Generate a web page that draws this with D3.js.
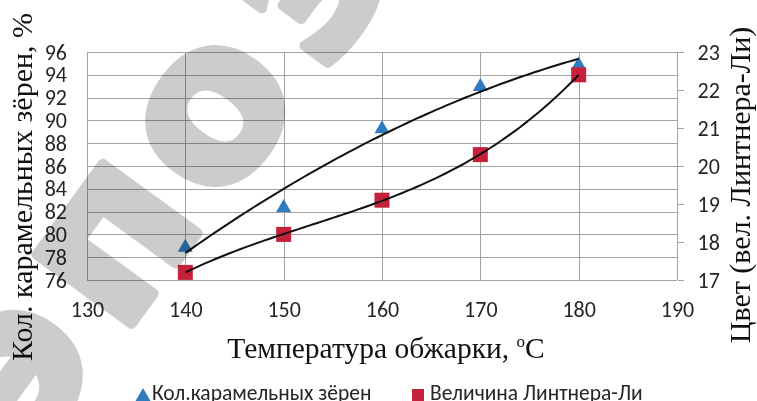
<!DOCTYPE html>
<html>
<head>
<meta charset="utf-8">
<script src="https://cdn.jsdelivr.net/npm/d3@7"></script>
<style>
  html, body { margin: 0; padding: 0; background: #fff; }
  svg { display: block; }
</style>
</head>
<body>
<svg id="chart" width="757" height="401"></svg>
<script>
// Roasting temperature, °C
const temperatures = [140, 150, 160, 170, 180];
// Share of caramelised beans, % (left axis)
const caramelBeans = [79, 82.5, 89.4, 93.1, 95];
// Lintner-Lee colour value (right axis)
const lintnerLee = [17.2, 18.2, 19.1, 20.3, 22.4];

const xTicks = [130, 140, 150, 160, 170, 180, 190];
const leftTicks = [76, 78, 80, 82, 84, 86, 88, 90, 92, 94, 96];
const rightTicks = [17, 18, 19, 20, 21, 22, 23];

const seriesNames = ["Кол.карамельных зёрен", "Величина Линтнера-Ли"];
const leftTitle = "Кол. карамельных зёрен, %";
const rightTitle = "Цвет (вел. Линтнера-Ли)";
const xTitle = "Температура обжарки, ";
const watermark = ["э", "п", "о", "з"];

const svg = d3.select("#chart");
const plot = { left: 87, right: 677, top: 52, bottom: 280 };

const x = d3.scaleLinear().domain([130, 190]).range([plot.left, plot.right]);
const yL = d3.scaleLinear().domain([76, 96]).range([plot.bottom, plot.top]);
const yR = d3.scaleLinear().domain([17, 23]).range([plot.bottom, plot.top]);

const gridColor = "#a3a3a3";
const tickFont = "Carlito, 'Open Sans', sans-serif";
const serif = "'Liberation Serif', 'Times New Roman', serif";
const blue = "#2e7bc0";
const red = "#c6213a";

// Grid
const grid = svg.append("g").attr("stroke", gridColor).attr("stroke-width", 1).attr("shape-rendering", "crispEdges");
grid.selectAll("line.h").data(leftTicks).join("line")
  .attr("x1", plot.left).attr("x2", plot.right)
  .attr("y1", d => Math.round(yL(d)) + 0.5).attr("y2", d => Math.round(yL(d)) + 0.5);
grid.selectAll("line.v").data(xTicks).join("line")
  .attr("y1", plot.top).attr("y2", plot.bottom)
  .attr("x1", d => Math.round(x(d)) + 0.5).attr("x2", d => Math.round(x(d)) + 0.5);

// Axes
const axisLeft = svg.append("g").attr("transform", `translate(${plot.left - 20},0)`)
  .call(d3.axisLeft(yL).tickValues(leftTicks).tickSize(0).tickPadding(0).tickFormat(d3.format("d")));
const axisRight = svg.append("g").attr("transform", `translate(${plot.right + 0.5},0)`)
  .call(d3.axisRight(yR).tickValues(rightTicks).tickSize(6).tickPadding(14).tickFormat(d3.format("d")));
const axisBottom = svg.append("g").attr("transform", `translate(0,${plot.bottom + 19})`)
  .call(d3.axisBottom(x).tickValues(xTicks).tickSize(0).tickPadding(0).tickFormat(d3.format("d")));

[axisLeft, axisRight, axisBottom].forEach(g => {
  g.select(".domain").remove();
  g.selectAll("text").attr("font-family", tickFont).attr("font-size", 22).attr("fill", "#262626");
});
axisRight.selectAll("line").attr("stroke", gridColor).attr("shape-rendering", "crispEdges");
axisBottom.selectAll("text").attr("dy", "0.8em");

// Least-squares polynomial fit
function polyfit(xs, ys, deg) {
  const xm = d3.mean(xs);
  const t = xs.map(v => (v - xm) / 10);
  const n = deg + 1;
  const A = Array.from({ length: n }, () => new Array(n + 1).fill(0));
  t.forEach((ti, k) => {
    for (let i = 0; i < n; i++) {
      for (let j = 0; j < n; j++) A[i][j] += Math.pow(ti, i + j);
      A[i][n] += Math.pow(ti, i) * ys[k];
    }
  });
  for (let i = 0; i < n; i++) {
    let p = i;
    for (let r = i + 1; r < n; r++) if (Math.abs(A[r][i]) > Math.abs(A[p][i])) p = r;
    [A[i], A[p]] = [A[p], A[i]];
    for (let r = 0; r < n; r++) {
      if (r === i) continue;
      const f = A[r][i] / A[i][i];
      for (let c = i; c <= n; c++) A[r][c] -= f * A[i][c];
    }
  }
  const coef = A.map((row, i) => row[n] / row[i]);
  return v => {
    const tv = (v - xm) / 10;
    return coef.reduce((s, c, i) => s + c * Math.pow(tv, i), 0);
  };
}

// Markers
const triPath = "M0,-7L7.5,6L-7.5,6Z";
svg.append("g").selectAll("path").data(temperatures).join("path")
  .attr("d", triPath)
  .attr("transform", (d, i) => `translate(${x(d)},${yL(caramelBeans[i])})`)
  .attr("fill", blue);
svg.append("g").selectAll("rect").data(temperatures).join("rect")
  .attr("x", d => x(d) - 7.5).attr("width", 15).attr("height", 15)
  .attr("y", (d, i) => yR(lintnerLee[i]) - 7.5)
  .attr("fill", red);

// Trend lines
const fitBlue = polyfit(temperatures, caramelBeans, 2);
const fitRed = polyfit(temperatures, lintnerLee, 3);
const samples = d3.range(140, 180.01, 0.5);
const line = d3.line().curve(d3.curveLinear);
svg.append("path")
  .attr("d", line(samples.map(v => [x(v), yL(fitBlue(v))])))
  .attr("fill", "none").attr("stroke", "#111").attr("stroke-width", 2);
svg.append("path")
  .attr("d", line(samples.map(v => [x(v), yR(fitRed(v))])))
  .attr("fill", "none").attr("stroke", "#111").attr("stroke-width", 2);

// Axis titles
svg.append("text")
  .attr("transform", "translate(32,187) rotate(-90)")
  .attr("text-anchor", "middle")
  .attr("font-family", serif).attr("font-size", 30).attr("fill", "#111")
  .text(leftTitle);
svg.append("text")
  .attr("transform", "translate(750,185) rotate(-90)")
  .attr("text-anchor", "middle")
  .attr("font-family", serif).attr("font-size", 30).attr("fill", "#111")
  .text(rightTitle);
const xt = svg.append("text")
  .attr("x", 386).attr("y", 358)
  .attr("text-anchor", "middle")
  .attr("font-family", serif).attr("font-size", 29.5).attr("fill", "#111");
xt.append("tspan").text(xTitle);
xt.append("tspan").attr("font-size", 17).attr("dy", -11).text("o");
xt.append("tspan").attr("dy", 11).text("C");

// Legend
const legend = svg.append("g").attr("font-family", tickFont).attr("font-size", 21.5).attr("fill", "#262626");
legend.append("path").attr("d", triPath).attr("transform", "translate(143,395)").attr("fill", blue);
legend.append("text").attr("x", 152).attr("y", 400).text(seriesNames[0]);
legend.append("rect").attr("x", 412).attr("y", 389).attr("width", 12).attr("height", 12).attr("fill", red);
legend.append("text").attr("x", 430).attr("y", 400).text(seriesNames[1]);

// Background stamp lettering
const wm = svg.append("g").style("mix-blend-mode", "multiply");
const wmCentre = [200, 105], wmStep = [98, -128];
wm.selectAll("text").data(watermark).join("text")
  .attr("transform", (d, i) => {
    const k = i - 2;
    return `translate(${wmCentre[0] + k * wmStep[0]},${wmCentre[1] + k * wmStep[1]}) rotate(-54)`;
  })
  .attr("text-anchor", "middle").attr("dy", "0.36em")
  .attr("font-family", "'DejaVu Sans', sans-serif").attr("font-weight", "bold")
  .attr("font-size", 215).attr("fill", "#cccccc")
  .attr("stroke", "#cccccc").attr("stroke-width", 10).attr("stroke-linejoin", "round")
  .text(d => d);
</script>
</body>
</html>
